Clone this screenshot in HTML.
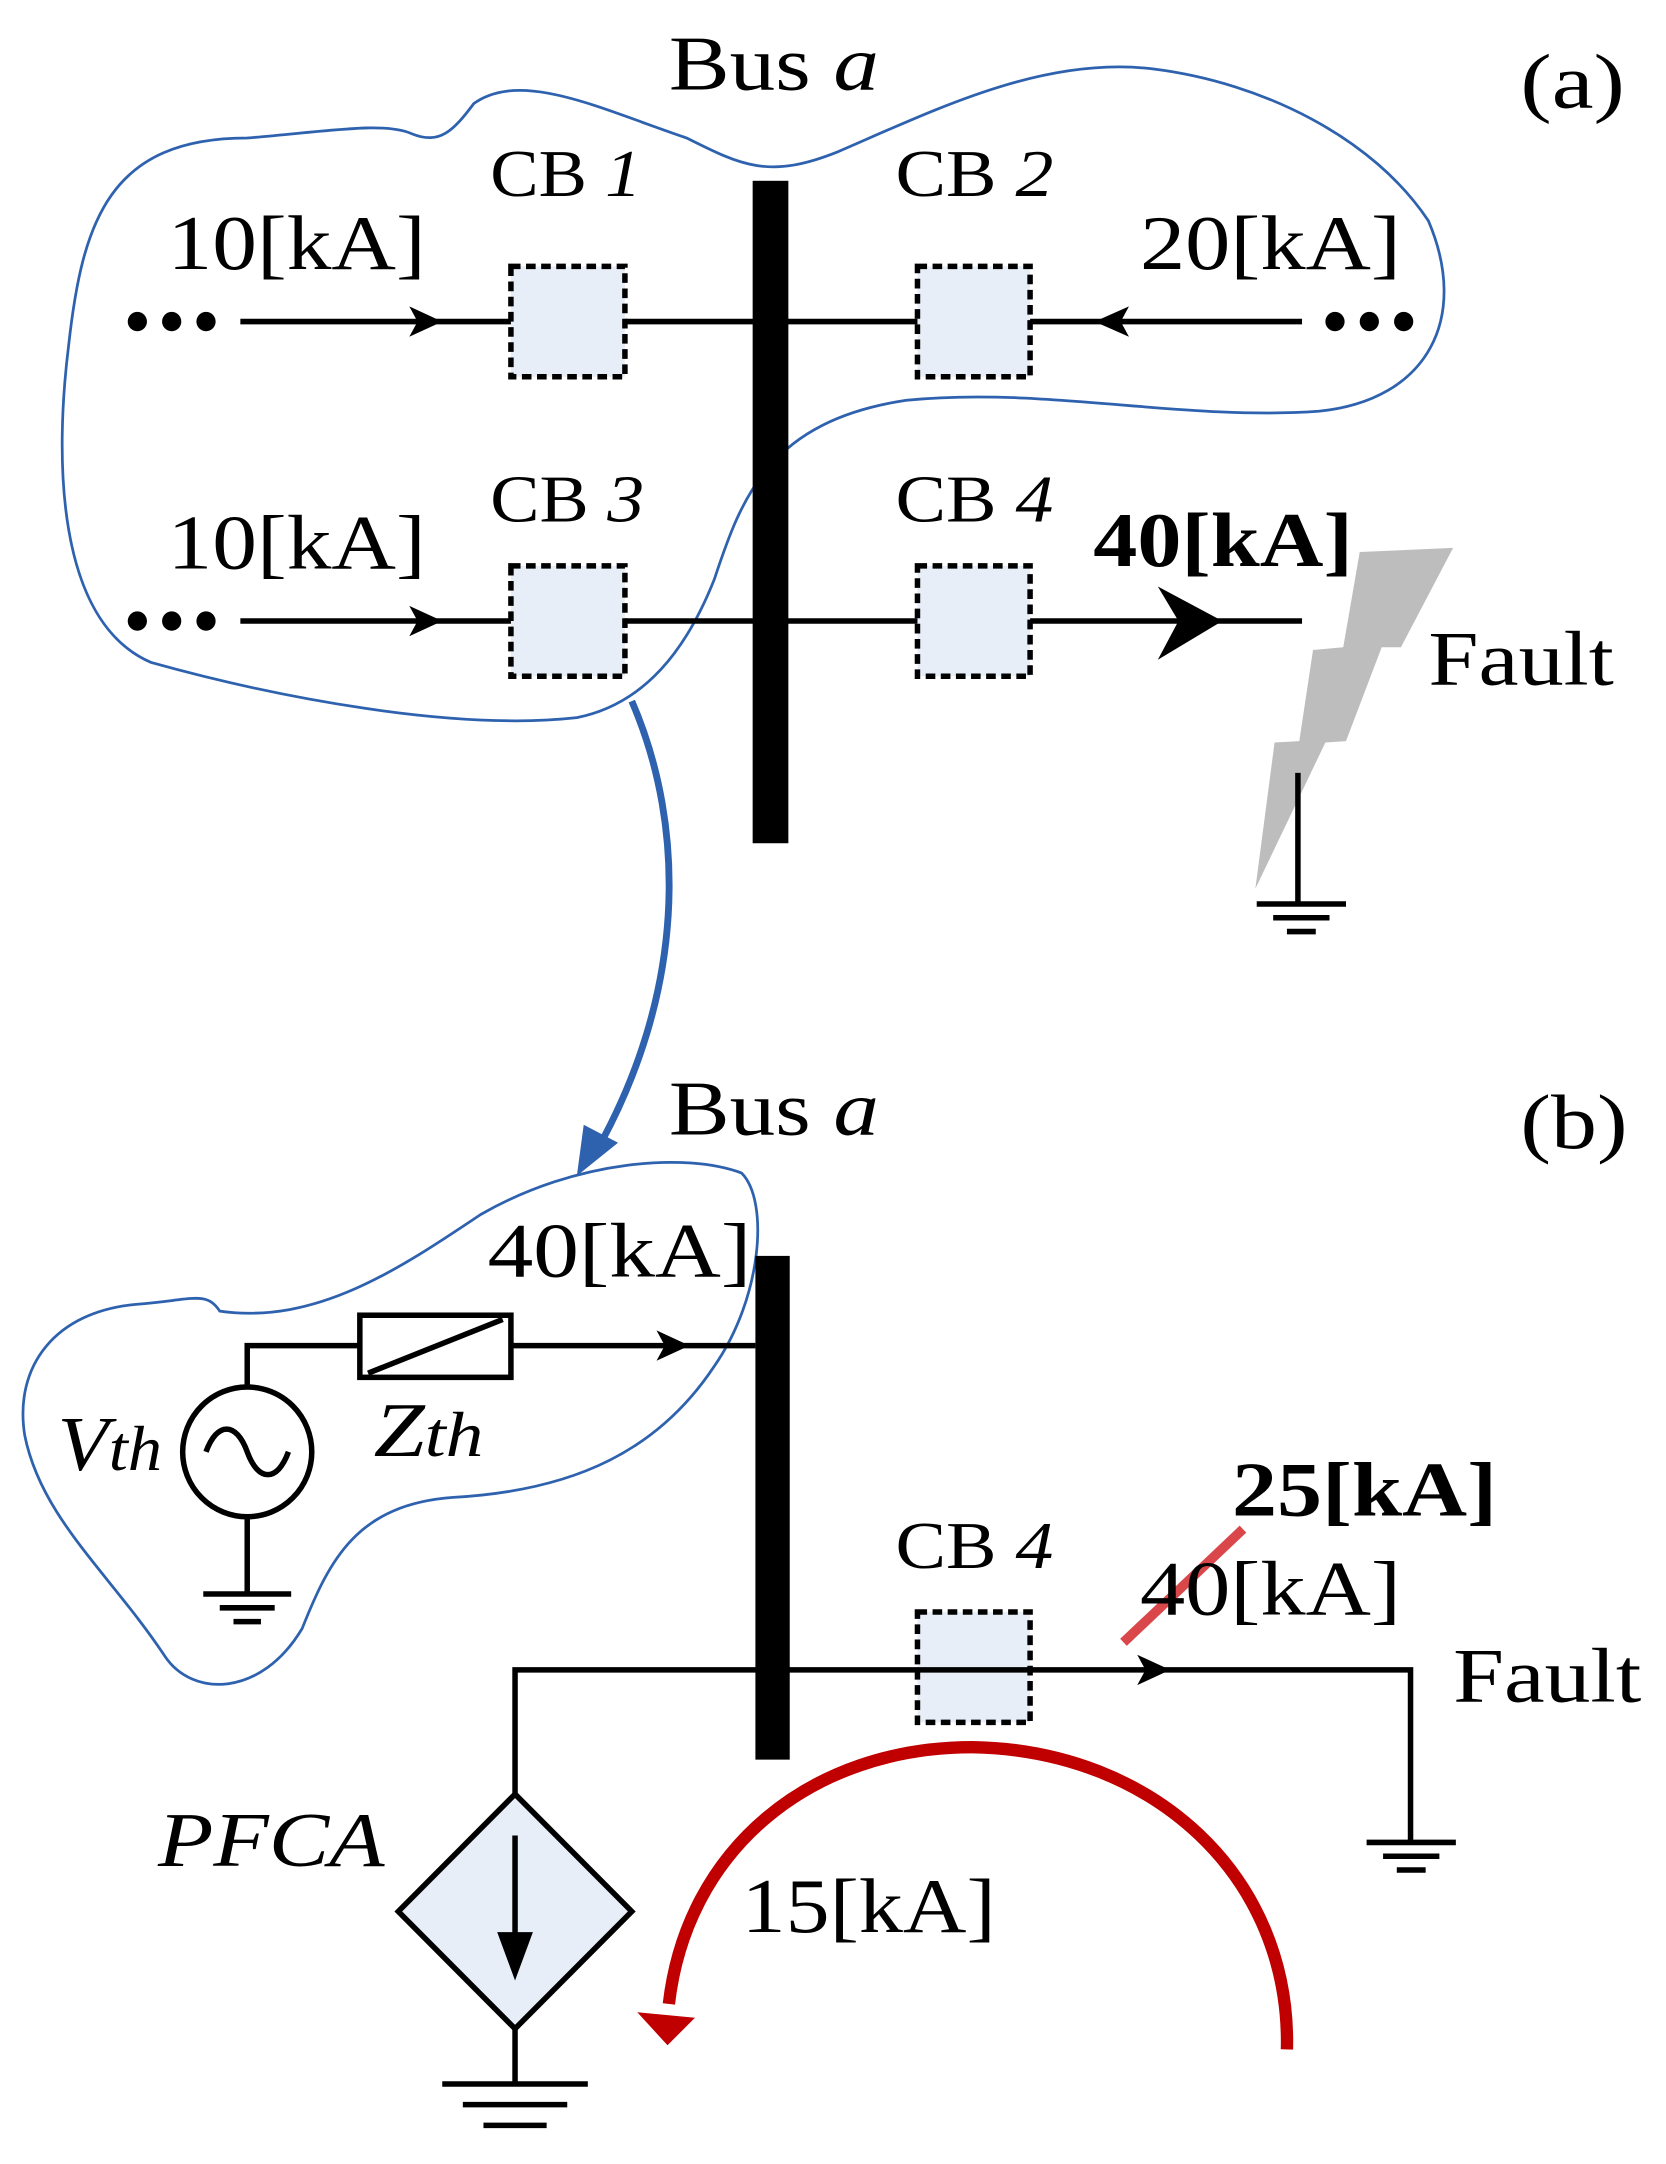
<!DOCTYPE html>
<html><head><meta charset="utf-8"><style>
html,body{margin:0;padding:0;background:#fff;width:1666px;height:2164px;overflow:hidden}
svg{display:block}
text{font-family:"Liberation Serif",serif;fill:#000}
</style></head><body>
<svg width="1666" height="2164" viewBox="0 0 1213 1568" preserveAspectRatio="none" xmlns="http://www.w3.org/2000/svg">
<!-- blue blob a -->
<path d="M300,97 C320,105 330,95 345,75 C380,50 440,80 500,100 C540,120 560,130 610,110 C680,80 760,40 840,50 C920,60 1000,100 1040,160 C1070,230 1040,290 960,298 C860,305 760,280 660,290 C560,305 540,360 520,420 C500,470 470,510 420,520 C330,530 200,505 110,480 C40,450 40,330 50,250 C60,160 80,100 180,100 C240,95 280,88 300,97 Z" fill="none" stroke="#2f62ae" stroke-width="2"/>
<!-- blue arrow -->
<path d="M460,508 C500,600 500,720 432,838" fill="none" stroke="#2f62ae" stroke-width="5"/>
<polygon points="420,852 425,815 450,828" fill="#2f62ae"/>
<!-- bus a -->
<rect x="548" y="131" width="26" height="480" fill="#000"/>
<!-- row 1 -->
<line x1="175" y1="233" x2="948" y2="233" stroke="#000" stroke-width="4"/>
<circle cx="100" cy="233" r="7"/><circle cx="125" cy="233" r="7"/><circle cx="150" cy="233" r="7"/>
<circle cx="972" cy="233" r="7"/><circle cx="997" cy="233" r="7"/><circle cx="1022" cy="233" r="7"/>
<polygon points="322,233 298,222 304,233 298,244" fill="#000"/>
<polygon points="797,233 822,222 816,233 822,244" fill="#000"/>
<!-- row 2 -->
<line x1="175" y1="450" x2="948" y2="450" stroke="#000" stroke-width="4"/>
<circle cx="100" cy="450" r="7"/><circle cx="125" cy="450" r="7"/><circle cx="150" cy="450" r="7"/>
<polygon points="322,450 298,439 304,450 298,461" fill="#000"/>
<polygon points="890,450 843,425 858,450 843,478" fill="#000"/>
<!-- CB boxes -->
<g fill="#e8eef8" stroke="#000" stroke-width="4" stroke-dasharray="7,4">
<rect x="372" y="193" width="83" height="80"/><rect x="668" y="193" width="82" height="80"/>
<rect x="372" y="410" width="83" height="80"/><rect x="668" y="410" width="82" height="80"/>
<rect x="668" y="1168" width="82" height="80"/>
</g>
<!-- fault a -->
<polygon points="990,400 1058,397 1020,469 1006,469 980,537 965,538 914,644 928,538 946,537 956,471 978,469" fill="#bdbdbd"/>
<g stroke="#000" stroke-width="4">
<line x1="945" y1="560" x2="945" y2="655"/>
<line x1="915" y1="655" x2="980" y2="655"/><line x1="927" y1="665" x2="968" y2="665"/><line x1="937" y1="675" x2="958" y2="675"/>
</g>
<!-- labels a -->
<g font-size="56" lengthAdjust="spacingAndGlyphs">
<text x="487" y="65" textLength="153" lengthAdjust="spacingAndGlyphs">Bus <tspan font-style="italic">a</tspan></text>
<text x="1107" y="78" textLength="76" lengthAdjust="spacingAndGlyphs">(a)</text>
<text x="122" y="195" textLength="188" lengthAdjust="spacingAndGlyphs">10[kA]</text>
<text x="830" y="195" textLength="190" lengthAdjust="spacingAndGlyphs">20[kA]</text>
<text x="122" y="412" textLength="188" lengthAdjust="spacingAndGlyphs">10[kA]</text>
<text x="796" y="410" font-weight="bold" textLength="189" lengthAdjust="spacingAndGlyphs">40[kA]</text>
<text x="1040" y="496" textLength="135" lengthAdjust="spacingAndGlyphs">Fault</text>
</g>
<g font-size="48">
<text x="357" y="142" textLength="110" lengthAdjust="spacingAndGlyphs">CB <tspan font-style="italic">1</tspan></text>
<text x="652" y="142" textLength="115" lengthAdjust="spacingAndGlyphs">CB <tspan font-style="italic">2</tspan></text>
<text x="357" y="378" textLength="112" lengthAdjust="spacingAndGlyphs">CB <tspan font-style="italic">3</tspan></text>
<text x="652" y="378" textLength="115" lengthAdjust="spacingAndGlyphs">CB <tspan font-style="italic">4</tspan></text>
<text x="652" y="1136" textLength="115" lengthAdjust="spacingAndGlyphs">CB <tspan font-style="italic">4</tspan></text>
</g>
<!-- blob b -->
<path d="M160,950 C230,960 290,920 350,880 C420,840 500,835 540,850 C560,870 555,940 520,990 C480,1050 420,1080 330,1085 C260,1090 240,1130 220,1180 C190,1230 140,1230 120,1200 C80,1140 30,1100 18,1040 C10,990 40,950 100,945 C140,942 150,935 160,950 Z" fill="none" stroke="#2f62ae" stroke-width="2"/>
<!-- bus b -->
<rect x="550" y="910" width="25" height="365" fill="#000"/>
<g stroke="#000" stroke-width="4" fill="none">
<polyline points="180,1005 180,975 262,975"/>
<rect x="262" y="953" width="110" height="45"/>
<line x1="268" y1="995" x2="366" y2="956"/>
<line x1="372" y1="975" x2="550" y2="975"/>
<circle cx="180" cy="1052" r="47"/>
<path d="M150,1052 C158,1030 172,1030 180,1052 C188,1074 202,1074 210,1052"/>
<line x1="180" y1="1099" x2="180" y2="1155"/>
<line x1="148" y1="1155" x2="212" y2="1155"/><line x1="160" y1="1165" x2="200" y2="1165"/><line x1="170" y1="1175" x2="190" y2="1175"/>
<polyline points="375,1300 375,1210 1027,1210 1027,1335"/>
<line x1="995" y1="1335" x2="1060" y2="1335"/><line x1="1007" y1="1345" x2="1048" y2="1345"/><line x1="1017" y1="1355" x2="1038" y2="1355"/>
<polygon points="375,1300 460,1385 375,1470 290,1385" fill="#e8eef8"/>
<line x1="375" y1="1330" x2="375" y2="1405"/>
<line x1="375" y1="1470" x2="375" y2="1510"/>
<line x1="322" y1="1510" x2="428" y2="1510"/><line x1="337" y1="1525" x2="413" y2="1525"/><line x1="352" y1="1540" x2="398" y2="1540"/>
</g>
<polygon points="375,1435 362,1400 388,1400" fill="#000"/>
<polygon points="502,975 478,964 484,975 478,986" fill="#000"/>
<polygon points="852,1210 828,1199 834,1210 828,1221" fill="#000"/>
<!-- red -->
<path d="M937,1485 C940,1360 840,1268 708,1266 C590,1266 500,1340 487,1452" fill="none" stroke="#c00000" stroke-width="9"/>
<polygon points="464,1458 506,1462 486,1482" fill="#c00000"/>
<line x1="818" y1="1190" x2="905" y2="1108" stroke="#d9474a" stroke-width="7"/>
<!-- labels b -->
<g font-size="56">
<text x="487" y="822" textLength="153" lengthAdjust="spacingAndGlyphs">Bus <tspan font-style="italic">a</tspan></text>
<text x="1107" y="832" textLength="78" lengthAdjust="spacingAndGlyphs">(b)</text>
<text x="355" y="925" textLength="192" lengthAdjust="spacingAndGlyphs">40[kA]</text>
<text x="42" y="1065" font-style="italic" textLength="76" lengthAdjust="spacingAndGlyphs">V<tspan font-size="46">th</tspan></text>
<text x="272" y="1055" font-style="italic" textLength="80" lengthAdjust="spacingAndGlyphs">Z<tspan font-size="46">th</tspan></text>
<text x="897" y="1098" font-weight="bold" textLength="193" lengthAdjust="spacingAndGlyphs">25[kA]</text>
<text x="830" y="1170" textLength="190" lengthAdjust="spacingAndGlyphs">40[kA]</text>
<text x="1058" y="1233" textLength="137" lengthAdjust="spacingAndGlyphs">Fault</text>
<text x="115" y="1352" font-style="italic" textLength="165" lengthAdjust="spacingAndGlyphs">PFCA</text>
<text x="540" y="1400" textLength="185" lengthAdjust="spacingAndGlyphs">15[kA]</text>
</g>
</svg>
</body></html>
